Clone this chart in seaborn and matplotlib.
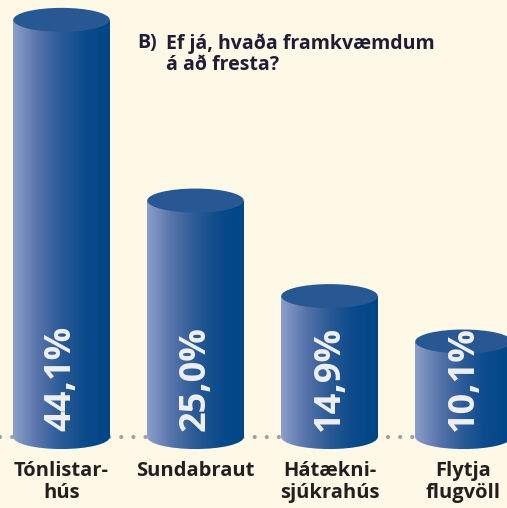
import numpy as np
import matplotlib
matplotlib.use('Agg')
import matplotlib.pyplot as plt
import seaborn as sns
from matplotlib.patches import Ellipse
from matplotlib.colors import LinearSegmentedColormap

sns.set_theme(style='white')
plt.rcParams['font.family'] = ['Open Sans', 'DejaVu Sans']

# --- data ---
categories = ['Tónlistarhús', 'Sundabraut', 'Hátæknisjúkrahús', 'Flytja flugvöll']
tick_labels = ['Tónlistar-\nhús', 'Sundabraut', 'Hátækni-\nsjúkrahús', 'Flytja\nflugvöll']
values = [44.1, 25.0, 14.9, 10.1]
value_labels = ['44,1%', '25,0%', '14,9%', '10,1%']

bg = '#fdf9e6'
top_col = '#275893'
grad = LinearSegmentedColormap.from_list('cyl', ['#8c9fca', '#5874ab', '#2a5a96', '#0b4a8b', '#004686'])

fig = plt.figure(figsize=(5.07, 5.08), dpi=100, facecolor=bg)
ax = fig.add_axes([0, 0, 1, 1])
ax.set_facecolor(bg)

sns.barplot(x=categories, y=values, ax=ax, width=0.72, color='#275893', saturation=1, zorder=2)
ax.set_xlim(-0.459, 3.325)
ax.set_ylim(-7.5, 46.2)
ax.axis('off')

# pixel -> data scale for ellipse heights
px_per_unit = fig.bbox.height / (ax.get_ylim()[1] - ax.get_ylim()[0])
ell_h = 24 / px_per_unit

# dotted baseline
ax.axhline(0.0, color='#a0a0a0', lw=3.0, linestyle=(0, (0.01, 2.9)),
           dash_capstyle='round', zorder=1)

gradient = np.linspace(0, 1, 256).reshape(1, -1)
for p, lab in zip(ax.patches, value_labels):
    x0, w, h = p.get_x(), p.get_width(), p.get_height()
    p.set_facecolor('none')
    p.set_edgecolor('none')
    # body
    im = ax.imshow(gradient, cmap=grad, aspect='auto', extent=(x0, x0 + w, -ell_h, h),
                   zorder=3, interpolation='bicubic')
    im.set_clip_path(p)
    # bottom rounded edge
    bot = Ellipse((x0 + w / 2, 0), w, ell_h, facecolor='none', edgecolor='none',
                  transform=ax.transData)
    ax.add_patch(bot)
    im2 = ax.imshow(gradient, cmap=grad, aspect='auto', extent=(x0, x0 + w, -ell_h, h),
                    zorder=3, interpolation='bicubic')
    im2.set_clip_path(bot)
    # top lid
    ax.add_patch(Ellipse((x0 + w / 2, h), w, ell_h, facecolor=top_col,
                         edgecolor='none', zorder=4))
    ax.text(x0 + w / 2, 0.6, lab, rotation=90, ha='center', va='bottom',
            color='#f0f0f0', fontsize=26, fontweight='bold', zorder=5)

ax.set_xlim(-0.459, 3.325)
ax.set_ylim(-7.5, 46.2)

# category labels under the cylinders
for i, t in enumerate(tick_labels):
    ax.text(i, 0.093, t, transform=ax.get_xaxis_transform(), ha='center', va='top',
            fontsize=14.5, fontweight='bold', color='#231f20', linespacing=1.15)

# title
fig.text(137 / 507, 1 - 33 / 508, 'B)', ha='left', va='top', fontsize=14,
         fontweight='bold', color='#1f1d35')
fig.text(166 / 507, 1 - 33 / 508, 'Ef já, hvaða framkvæmdum\ná að fresta?', ha='left',
         va='top', fontsize=14, fontweight='bold', color='#1f1d35', linespacing=1.1)

plt.savefig('out.png', dpi=100, facecolor=bg)
